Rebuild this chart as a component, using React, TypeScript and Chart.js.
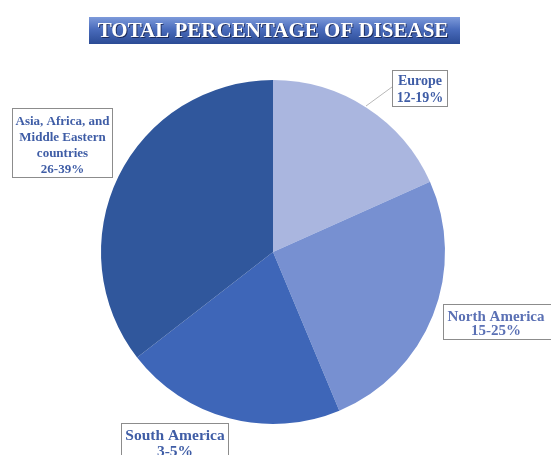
import React, { useEffect, useRef } from "react";
import { Chart, registerables } from "chart.js";

Chart.register(...registerables);

// ---- data ----
const regions = ["Europe", "North America", "South America", "Asia, Africa, and Middle Eastern countries"];
const shares = [18.3, 25.4, 20.8, 35.5];
const rangeLabels = ["12-19%", "15-25%", "3-5%", "26-39%"];
const labelLines = [["Europe"], ["North America"], ["South America"], ["Asia, Africa, and", "Middle Eastern", "countries"]];
const titleText = "TOTAL PERCENTAGE OF DISEASE";

// ---- styles ----
const sliceColors = ["#AAB6DF", "#7790D1", "#3E66B8", "#30579C"];
const labelBoxes = [
  { x: 392, y: 70, w: 55, h: 36, size: 14, first: 84.5, lh: 17, color: "#3F5DA6", cx: 420 },
  { x: 443, y: 304, w: 130, h: 35, size: 15, first: 320.5, lh: 14.5, color: "#5A70B4", cx: 496 },
  { x: 121, y: 423, w: 107, h: 45, size: 15.5, first: 440, lh: 16, color: "#3F5DA6", cx: 175 },
  { x: 12, y: 108, w: 100, h: 69, size: 13, first: 124.5, lh: 16, color: "#3F5DA6", cx: 62.5 },
];
const FONT = "'Liberation Serif', 'Times New Roman', serif";

const overlayPlugin = {
  id: "overlay",
  afterDraw(chart: any) {
    const ctx = chart.ctx as CanvasRenderingContext2D;
    ctx.save();
    // Title banner
    const tx = 89, ty = 17, tw = 371, th = 27;
    const g = ctx.createLinearGradient(0, ty, 0, ty + th);
    g.addColorStop(0, "#7D9ADA");
    g.addColorStop(0.45, "#4A6CBC");
    g.addColorStop(1, "#2B4B95");
    ctx.fillStyle = g;
    ctx.fillRect(tx, ty, tw, th);
    ctx.font = `bold 21px ${FONT}`;
    ctx.textAlign = "center";
    ctx.textBaseline = "alphabetic";
    ctx.fillStyle = "rgba(20,30,70,0.8)";
    ctx.fillText(titleText, 274, 38);
    ctx.fillStyle = "#FFFFFF";
    ctx.fillText(titleText, 273, 37);

    // Europe leader line
    ctx.strokeStyle = "#B8B8B8";
    ctx.lineWidth = 1;
    ctx.beginPath();
    ctx.moveTo(392, 87);
    ctx.lineTo(366, 106);
    ctx.stroke();

    // label boxes
    labelBoxes.forEach((b, i) => {
      ctx.fillStyle = "#FFFFFF";
      ctx.fillRect(b.x, b.y, b.w, b.h);
      ctx.strokeStyle = "#8C8C8C";
      ctx.lineWidth = 1;
      ctx.strokeRect(b.x + 0.5, b.y + 0.5, b.w, b.h);
      ctx.fillStyle = b.color;
      ctx.font = `bold ${b.size}px ${FONT}`;
      ctx.textAlign = "center";
      const lines = [...labelLines[i], rangeLabels[i]];
      lines.forEach((t, k) => {
        ctx.fillText(t, b.cx, b.first + k * b.lh);
      });
    });
    ctx.restore();
  },
};

export default function App() {
  const ref = useRef<HTMLCanvasElement | null>(null);
  useEffect(() => {
    if (!ref.current) return;
    const chart = new Chart(ref.current, {
      type: "pie",
      data: {
        labels: regions,
        datasets: [
          {
            data: shares,
            backgroundColor: sliceColors,
            borderWidth: 0,
          },
        ],
      },
      options: {
        responsive: false,
        animation: false,
        layout: { padding: { left: 101, right: 106, top: 80, bottom: 31 } },
        plugins: {
          legend: { display: false },
          tooltip: { enabled: false },
          title: { display: false },
        },
      },
      plugins: [overlayPlugin],
    });
    return () => chart.destroy();
  }, []);
  return (
    <div style={{ position: "absolute", left: 0, top: 0, width: 551, height: 455, background: "#fff" }}>
      <canvas ref={ref} width={551} height={455} />
    </div>
  );
}
